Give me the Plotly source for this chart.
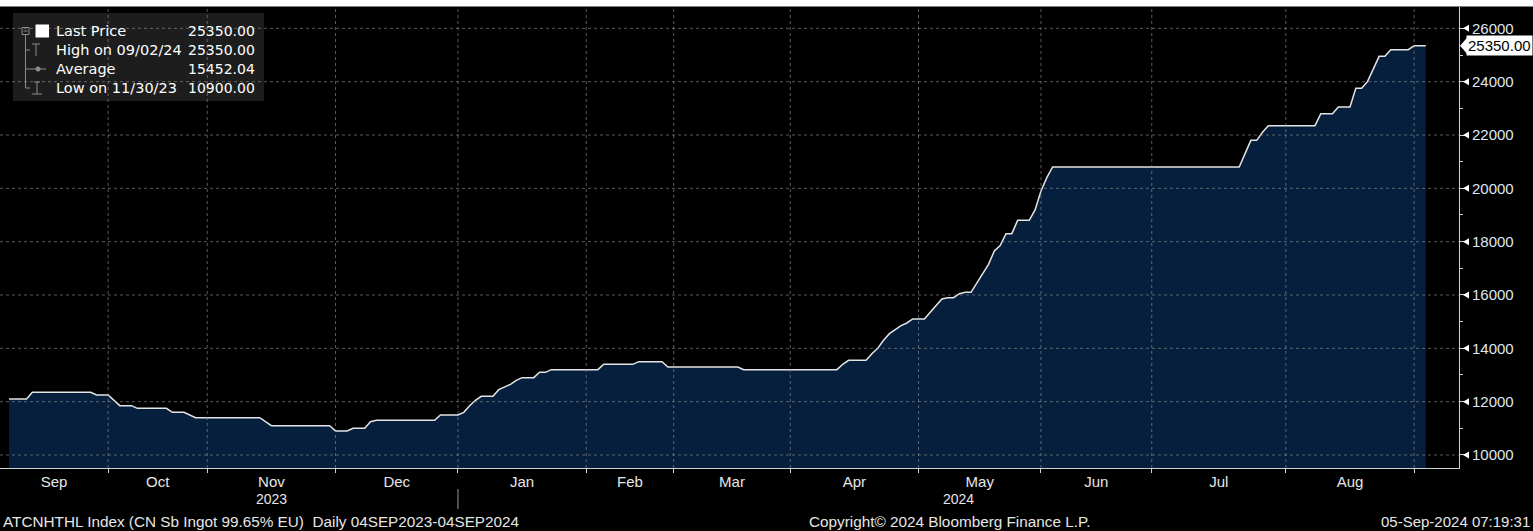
import pandas as pd
import plotly.graph_objects as go

# ---------------- trading calendar (x axis is in trading days) ----------------
CAL_START = "2023-09-04"
CAL_END = "2024-09-30"
HOLIDAYS = [
    "2023-09-29", "2023-10-02", "2023-10-03", "2023-10-04", "2023-10-05", "2023-10-06",
    "2024-01-01", "2024-02-09", "2024-02-12", "2024-02-13", "2024-02-14", "2024-02-15",
    "2024-02-16", "2024-03-29", "2024-05-01", "2024-05-02", "2024-06-10",
]

# ---------------- price series (vertices where the level changes) -------------
DATES = [
    "2023-09-06", "2023-09-11", "2023-09-12", "2023-09-26", "2023-09-27", "2023-10-09",
    "2023-10-11", "2023-10-13", "2023-10-16", "2023-10-23", "2023-10-24", "2023-10-26",
    "2023-10-30", "2023-11-14", "2023-11-16", "2023-11-30", "2023-12-01", "2023-12-05",
    "2023-12-06", "2023-12-08", "2023-12-11", "2023-12-12", "2023-12-26", "2023-12-27",
    "2024-01-02", "2024-01-03", "2024-01-04", "2024-01-05", "2024-01-08", "2024-01-10",
    "2024-01-11", "2024-01-12", "2024-01-15", "2024-01-16", "2024-01-17", "2024-01-19",
    "2024-01-22", "2024-01-23", "2024-01-24", "2024-02-05", "2024-02-06", "2024-02-21",
    "2024-02-22", "2024-02-28", "2024-02-29", "2024-03-18", "2024-03-19", "2024-04-11",
    "2024-04-12", "2024-04-15", "2024-04-18", "2024-04-19", "2024-04-22", "2024-04-23",
    "2024-04-24", "2024-04-25", "2024-04-26", "2024-04-29", "2024-04-30", "2024-05-06",
    "2024-05-07", "2024-05-08", "2024-05-09", "2024-05-10", "2024-05-13", "2024-05-14",
    "2024-05-15", "2024-05-16", "2024-05-17", "2024-05-20", "2024-05-21", "2024-05-22",
    "2024-05-23", "2024-05-24", "2024-05-27", "2024-05-28", "2024-05-30", "2024-05-31",
    "2024-06-03", "2024-06-04", "2024-06-05", "2024-07-22", "2024-07-23", "2024-07-24",
    "2024-07-25", "2024-07-26", "2024-07-29", "2024-08-08", "2024-08-09", "2024-08-13",
    "2024-08-14", "2024-08-16", "2024-08-19", "2024-08-20", "2024-08-21", "2024-08-22",
    "2024-08-23", "2024-08-26", "2024-08-27", "2024-08-30", "2024-09-02", "2024-09-04",
]
PRICES = [
    12100, 12100, 12350, 12350, 12250, 12250,
    11850, 11850, 11750, 11750, 11600, 11600,
    11400, 11400, 11100, 11100, 10900, 10900,
    11000, 11000, 11250, 11300, 11300, 11500,
    11500, 11600, 11850, 12050, 12200, 12200,
    12450, 12550, 12650, 12800, 12900, 12900,
    13100, 13100, 13200, 13200, 13400, 13400,
    13500, 13500, 13300, 13300, 13200, 13200,
    13400, 13550, 13550, 13800, 14000, 14300,
    14550, 14700, 14850, 14950, 15100, 15100,
    15350, 15600, 15850, 15900, 15900, 16050,
    16100, 16100, 16450, 16800, 17150, 17650,
    17850, 18300, 18300, 18800, 18800, 19200,
    19900, 20400, 20800, 20800, 21300, 21800,
    21800, 22100, 22350, 22350, 22800, 22800,
    23050, 23050, 23750, 23750, 24000, 24450,
    24950, 24950, 25200, 25200, 25350, 25350,
]

# ---------------- labels ----------------
MONTH_LABELS = ["Sep", "Oct", "Nov", "Dec", "Jan", "Feb", "Mar", "Apr", "May", "Jun", "Jul", "Aug"]
YEAR_LABELS = ["2023", "2024"]
Y_TICKS = [10000, 12000, 14000, 16000, 18000, 20000, 22000, 24000, 26000]
Y_MINOR_STEP = 1000
Y_RANGE = [9512, 26800]
LEGEND_LABELS = ["Last Price", "High on 09/02/24", "Average", "Low on 11/30/23"]
LEGEND_VALUES = ["25350.00", "25350.00", "15452.04", "10900.00"]
LAST_PRICE = 25350
LAST_PRICE_TEXT = "25350.00"
FOOTER_LEFT = "ATCNHTHL Index (CN Sb Ingot 99.65% EU)\u00a0\u00a0Daily 04SEP2023-04SEP2024"
FOOTER_MID = "Copyright\u00a9 2024 Bloomberg Finance L.P."
FOOTER_RIGHT = "05-Sep-2024 07:19:31"

# ---------------- build trading-day index ----------------
tdays = pd.bdate_range(CAL_START, CAL_END)
tdays = tdays[~tdays.isin(pd.to_datetime(HOLIDAYS))]
pos = {d: i for i, d in enumerate(tdays)}
xs = [pos[pd.Timestamp(d)] for d in DATES]

periods = tdays.to_period("M")
month_first = []  # index of first trading day of each month
for i in range(len(tdays)):
    if i == 0 or periods[i] != periods[i - 1]:
        month_first.append(i)

x_left = xs[0] - 1.55
x_right = xs[-1] + 5.7
bounds = [b for b in month_first if x_left < b < x_right]
mids = []
for k in range(len(MONTH_LABELS)):
    a = max(month_first[k], x_left)
    b = month_first[k + 1]
    mids.append((a + b) / 2)

# ---------------- geometry helpers ----------------
W, H = 1533, 531
ML, MR, MT, MB = 0, 74, 7, 63
PW, PH = W - ML - MR, H - MT - MB


def px(x):
    return (x - ML) / PW


def py(y):
    return 1 - (y - MT) / PH


AX_FONT = "Liberation Sans, Arial, sans-serif"
LEG_FONT = "DejaVu Sans, Verdana, sans-serif"
TXT = "#e6e6e6"
GRID = "rgba(150,150,150,0.6)"
TREE = "#8c8c8c"

fig = go.Figure()
fig.add_trace(go.Scatter(
    x=xs, y=PRICES, mode="lines",
    line=dict(color="#e4e4e4", width=1.5),
    fill="tozeroy", fillcolor="#051f3d",
    hoverinfo="skip", showlegend=False,
))

shapes = []
# top white strip
shapes.append(dict(type="rect", xref="paper", yref="paper", x0=-0.01, x1=1.1,
                   y0=py(6.5), y1=py(-5), fillcolor="white", line=dict(width=0), layer="above"))
# legend box
shapes.append(dict(type="rect", xref="paper", yref="paper", x0=px(13), x1=px(264),
                   y0=py(101), y1=py(13), fillcolor="rgba(40,40,40,0.72)",
                   line=dict(width=0), layer="above"))
# gridlines
for b in bounds:
    shapes.append(dict(type="line", xref="x", yref="paper", x0=b, x1=b, y0=0, y1=1,
                       line=dict(color=GRID, width=1, dash="dot"), layer="above"))
for v in Y_TICKS:
    shapes.append(dict(type="line", xref="paper", yref="y", x0=0, x1=1, y0=v, y1=v,
                       line=dict(color=GRID, width=1, dash="dot"), layer="above"))
# y tick arrow markers
ypx = (Y_RANGE[1] - Y_RANGE[0]) / PH
for v in Y_TICKS:
    shapes.append(dict(type="path", xref="paper", yref="y",
                       path=f"M {px(1463)},{v} L {px(1469)},{v + 3.5 * ypx} L {px(1469)},{v - 3.5 * ypx} Z",
                       fillcolor="white", line=dict(width=0), layer="above"))
# last price tag arrow
shapes.append(dict(type="path", xref="paper", yref="y",
                   path=f"M {px(1460)},{LAST_PRICE} L {px(1467)},{LAST_PRICE + 8 * ypx} L {px(1467)},{LAST_PRICE - 8 * ypx} Z",
                   fillcolor="white", line=dict(width=0), layer="above"))
# year separator
jan_b = [b for b, p in zip(month_first, [periods[i] for i in month_first]) if p.month == 1][0]
shapes.append(dict(type="line", xref="x", yref="paper", x0=jan_b, x1=jan_b,
                   y0=py(489), y1=py(509), line=dict(color="#9a9a9a", width=1)))

# legend icons / tree
row_y = [31, 50, 69, 88]
shapes.append(dict(type="rect", xref="paper", yref="paper", x0=px(35.5), x1=px(49),
                   y0=py(37.5), y1=py(24.5), fillcolor="white", line=dict(width=0), layer="above"))
shapes.append(dict(type="rect", xref="paper", yref="paper", x0=px(22), x1=px(29),
                   y0=py(34.5), y1=py(27.5), fillcolor="rgba(0,0,0,0)", line=dict(color=TREE, width=1), layer="above"))
shapes.append(dict(type="line", xref="paper", yref="paper", x0=px(23.5), x1=px(27.5),
                   y0=py(31), y1=py(31), line=dict(color=TREE, width=1), layer="above"))
shapes.append(dict(type="line", xref="paper", yref="paper", x0=px(25.5), x1=px(25.5),
                   y0=py(35), y1=py(row_y[3]), line=dict(color=TREE, width=1), layer="above"))
for ry in row_y[1:]:
    shapes.append(dict(type="line", xref="paper", yref="paper", x0=px(25.5), x1=px(30),
                       y0=py(ry), y1=py(ry), line=dict(color=TREE, width=1), layer="above"))
# High icon (T)
shapes.append(dict(type="line", xref="paper", yref="paper", x0=px(32), x1=px(40),
                   y0=py(44), y1=py(44), line=dict(color=TREE, width=1), layer="above"))
shapes.append(dict(type="line", xref="paper", yref="paper", x0=px(36), x1=px(36),
                   y0=py(44), y1=py(56), line=dict(color=TREE, width=1), layer="above"))
# Average icon
shapes.append(dict(type="line", xref="paper", yref="paper", x0=px(30), x1=px(46),
                   y0=py(69), y1=py(69), line=dict(color=TREE, width=1), layer="above"))
shapes.append(dict(type="circle", xref="paper", yref="paper", x0=px(35.5), x1=px(40.5),
                   y0=py(71.5), y1=py(66.5), fillcolor=TREE, line=dict(width=0), layer="above"))
# Low icon
shapes.append(dict(type="line", xref="paper", yref="paper", x0=px(34), x1=px(40),
                   y0=py(82), y1=py(82), line=dict(color=TREE, width=1), layer="above"))
shapes.append(dict(type="line", xref="paper", yref="paper", x0=px(37), x1=px(37),
                   y0=py(82), y1=py(94), line=dict(color=TREE, width=1), layer="above"))
shapes.append(dict(type="line", xref="paper", yref="paper", x0=px(32), x1=px(42),
                   y0=py(94), y1=py(94), line=dict(color=TREE, width=1), layer="above"))

annotations = []
for lab, val, ry in zip(LEGEND_LABELS, LEGEND_VALUES, row_y):
    annotations.append(dict(xref="paper", yref="paper", x=px(54), y=py(ry), text=lab,
                            xanchor="left", yanchor="middle", showarrow=False,
                            font=dict(family=LEG_FONT, size=14.5, color="white")))
    annotations.append(dict(xref="paper", yref="paper", x=px(257), y=py(ry), text=val,
                            xanchor="right", yanchor="middle", showarrow=False,
                            font=dict(family=LEG_FONT, size=14, color="white")))
# last price tag
annotations.append(dict(xref="paper", yref="y", x=px(1466), y=LAST_PRICE, text=LAST_PRICE_TEXT,
                        xanchor="left", yanchor="middle", showarrow=False, bgcolor="white",
                        borderpad=1, font=dict(family=AX_FONT, size=15, color="black")))
# year labels
annotations.append(dict(xref="x", yref="paper", x=mids[2], y=py(499), text=YEAR_LABELS[0],
                        showarrow=False, yanchor="middle", font=dict(family=AX_FONT, size=14, color=TXT)))
annotations.append(dict(xref="x", yref="paper", x=(jan_b + x_right) / 2, y=py(499), text=YEAR_LABELS[1],
                        showarrow=False, yanchor="middle", font=dict(family=AX_FONT, size=14, color=TXT)))
# footer
annotations.append(dict(xref="paper", yref="paper", x=px(1), y=py(521), text=FOOTER_LEFT,
                        xanchor="left", yanchor="middle", showarrow=False,
                        font=dict(family=AX_FONT, size=15.3, color=TXT)))
annotations.append(dict(xref="paper", yref="paper", x=px(949), y=py(521), text=FOOTER_MID,
                        xanchor="center", yanchor="middle", showarrow=False,
                        font=dict(family=AX_FONT, size=15.3, color=TXT)))
annotations.append(dict(xref="paper", yref="paper", x=px(1532), y=py(521), text=FOOTER_RIGHT,
                        xanchor="right", yanchor="middle", showarrow=False,
                        font=dict(family=AX_FONT, size=15, color=TXT)))

fig.update_layout(
    width=W, height=H,
    margin=dict(l=ML, r=MR, t=MT, b=MB, pad=0),
    paper_bgcolor="black", plot_bgcolor="black",
    showlegend=False,
    shapes=shapes, annotations=annotations,
    xaxis=dict(
        range=[x_left, x_right], tickmode="array", tickvals=mids, ticktext=MONTH_LABELS,
        ticks="", showgrid=False, zeroline=False, showline=True, linecolor="#cfcfcf", linewidth=1,
        tickfont=dict(family=AX_FONT, size=15, color=TXT), ticklabelstandoff=0,
        minor=dict(tickmode="array", tickvals=bounds, ticks="outside", ticklen=4,
                   tickcolor="#cfcfcf", tickwidth=1, showgrid=False),
    ),
    yaxis=dict(
        side="right", range=Y_RANGE, tickmode="array", tickvals=Y_TICKS,
        ticktext=[str(v) for v in Y_TICKS],
        ticks="outside", ticklen=9, tickcolor="#d8d8d8", tickwidth=1,
        showgrid=False, zeroline=False, showline=True, linecolor="#cfcfcf", linewidth=1,
        tickfont=dict(family=AX_FONT, size=15, color="#dfe7f0"),
        minor=dict(dtick=Y_MINOR_STEP, tick0=Y_TICKS[0], ticks="outside", ticklen=3,
                   tickcolor="#cfcfcf", showgrid=False),
    ),
)

fig.write_html(
    "out.html",
    config={"displayModeBar": False},
    post_script="document.body.style.margin='0';document.body.style.background='black';",
)
